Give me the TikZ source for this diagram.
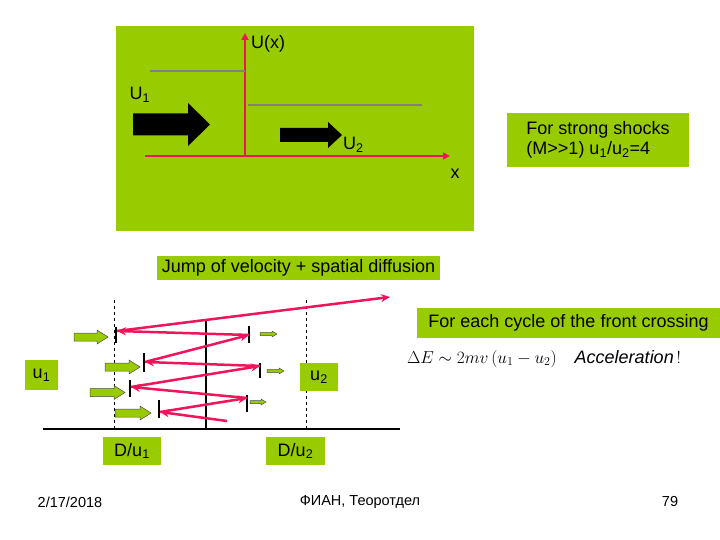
\documentclass[tikz,border=0pt]{standalone}
\usepackage{fontspec}
\setmainfont{Liberation Sans}
\usetikzlibrary{arrows.meta}
\definecolor{lg}{HTML}{99CC00}
\definecolor{rd}{HTML}{F0145A}
\newcommand{\blkarrow}[7]{% style, x1, x2, yc, shaft half, head half, head len
  \path[#1] (#2,#4-#5) -- (#3-#7,#4-#5) -- (#3-#7,#4-#6) -- (#3,#4) -- (#3-#7,#4+#6) -- (#3-#7,#4+#5) -- (#2,#4+#5) -- cycle;}
\newcommand{\sbs}[1]{\textsubscript{#1}}
\begin{document}
\begin{tikzpicture}[x=1pt,y=-1pt,
  gbox/.style={fill=lg,draw=none,inner sep=0},
  fnt/.style={font=\fontsize{18}{20}\selectfont},
  lbl/.style={fnt,inner sep=1pt},
  ax/.style={draw=rd,line width=2.2pt,-{Triangle[length=7pt,width=7pt]}},
  zz/.style={draw=rd,line width=2.5pt,-{Stealth[length=9pt,width=8pt]}},
  bar/.style={line width=2.5pt},
  garr/.style={fill=lg,draw=black!70,line width=0.5pt}]
\useasboundingbox (0,0) rectangle (720,540);
\fill[lg] (116,26) rectangle (474,231);
% axes
\coordinate (o) at (245,156);
\coordinate (xe) at (450,156);
\coordinate (ye) at (245,33);
\draw[ax] (145,156) -- (xe);
\draw[ax] (o) -- (ye);
\draw[gray,line width=2.5pt] (150,71) -- (245,71);
\draw[gray,line width=2.5pt] (248,105) -- (422,105);
\blkarrow{fill=black}{133}{210}{124.5}{11}{21.5}{22}
\blkarrow{fill=black}{280}{342}{135}{7}{13}{14}
\node[lbl,anchor=west] (ux) at (250,44) {U(x)};
\node[lbl] (U1) at (140,95) {U\sbs{1}};
\node[lbl,anchor=west] (U2) at (342,145) {U\sbs{2}};
\node[lbl] (xl) at (455,174) {x};
\node[gbox,minimum width=182pt,minimum height=54pt,align=left,fnt] (ss) at (598,140) {For strong shocks\\(M{>}{>}1) u\sbs{1}/u\sbs{2}=4};
\node[gbox,minimum width=283pt,minimum height=24pt,fnt] (jv) at (298.5,268) {Jump of velocity + spatial diffusion};
\node[gbox,minimum width=303pt,minimum height=30pt,fnt] (fc) at (568.5,323) {For each cycle of the front crossing};
\node[font=\fontsize{18}{20}\selectfont] (fm) at (544,359) {$\Delta E\sim 2mv\,(u_1-u_2)\quad \mathit{Acceleration}\,!$};
% lower diagram
\draw[line width=2.5pt] (43,429) -- (400,429);
\draw[dashed,thin] (114,300) -- (114,429);
\draw[dashed,thin] (306,300) -- (306,429);
\draw[line width=2.5pt] (206,320) -- (206,429);
\node[gbox,minimum width=33pt,minimum height=30pt,fnt] (u1) at (41.5,375) {u\sbs{1}};
\node[gbox,minimum width=38pt,minimum height=28pt,fnt] (u2) at (319,377) {u\sbs{2}};
\node[gbox,minimum width=58pt,minimum height=28pt,fnt] (d1) at (132,451) {D/u\sbs{1}};
\node[gbox,minimum width=59pt,minimum height=28pt,fnt] (d2) at (295.5,451) {D/u\sbs{2}};
% bars
\draw[bar] (116,327) -- (116,343);
\draw[bar] (249,326) -- (249,343);
\draw[bar] (144,353) -- (144,372);
\draw[bar] (260,363) -- (260,378);
\draw[bar] (130,380) -- (130,397);
\draw[bar] (247,395) -- (247,412);
\draw[bar] (159,400) -- (159,418);
% zigzag
\coordinate (z0) at (227,421);
\coordinate (z1) at (160,412);
\coordinate (z2) at (247,398);
\coordinate (z3) at (131,387);
\coordinate (z4) at (260,366);
\coordinate (z5) at (145,362);
\coordinate (z6) at (249,335);
\coordinate (z7) at (117,331);
\coordinate (z8) at (390,297);
\draw[zz] (z0) -- (z1);
\draw[zz] (z1) -- (z2);
\draw[zz] (z2) -- (z3);
\draw[zz] (z3) -- (z4);
\draw[zz] (z4) -- (z5);
\draw[zz] (z5) -- (z6);
\draw[zz] (z6) -- (z7);
\draw[zz] (z7) -- (z8);
% green arrows
\blkarrow{garr}{74}{108}{337}{4}{7}{11}
\blkarrow{garr}{105}{140}{367}{4}{7}{11}
\blkarrow{garr}{90}{125}{392.5}{4}{7}{11}
\blkarrow{garr}{115}{151}{413}{4}{7}{11}
\blkarrow{garr}{260}{277}{334}{1.5}{3}{5}
\blkarrow{garr}{267}{284}{371}{1.5}{3}{5}
\blkarrow{garr}{250}{266}{402}{1.5}{3}{5}
% footer
\node[font=\fontsize{14.5}{16}\selectfont] (f1) at (70,502) {2/17/2018};
\node[font=\fontsize{14.5}{16}\selectfont] (f2) at (360,502) {ФИАН, Теоротдел};
\node[font=\fontsize{14.5}{16}\selectfont] (f3) at (670,502) {79};
\end{tikzpicture}
\end{document}
